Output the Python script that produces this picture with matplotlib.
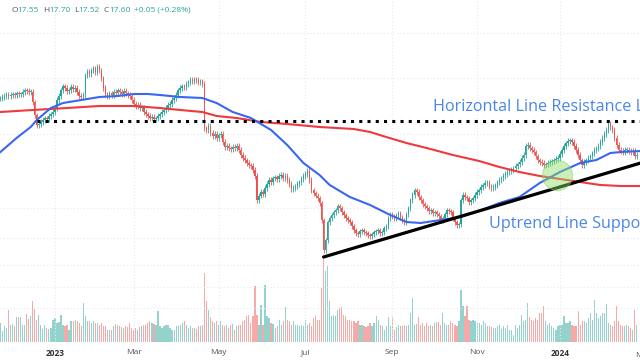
import matplotlib
matplotlib.use("Agg")
import matplotlib.pyplot as plt
import numpy as np
import pandas as pd

plt.rcParams['font.family'] = ['Open Sans', 'DejaVu Sans']

# exchange holidays inside the window
holidays = ["2022-11-24", "2022-12-26", "2023-01-02", "2023-01-16", "2023-02-20",
            "2023-04-07", "2023-05-29", "2023-06-19", "2023-07-04", "2023-09-04",
            "2023-11-23", "2023-12-25", "2024-01-01", "2024-01-15", "2024-02-19"]
start_day = "2022-11-22"

# daily closes
closes = [
    19.88, 19.92, 19.96, 20.00, 19.96, 20.00, 20.04, 20.00, 20.08, 20.04,
    20.04, 20.12, 20.20, 20.16, 20.12, 20.12, 19.72, 19.20, 18.80, 18.84,
    18.92, 19.00, 19.08, 19.04, 19.16, 19.24, 19.32, 19.48, 19.80, 19.96,
    20.20, 20.36, 20.28, 20.16, 20.20, 20.32, 20.24, 20.28, 20.12, 19.96,
    19.92, 20.00, 20.80, 20.92, 20.84, 21.00, 21.08, 20.92, 21.12, 21.00,
    20.68, 20.28, 20.04, 19.96, 20.08, 20.00, 20.12, 20.08, 20.20, 20.12,
    20.04, 20.16, 20.08, 20.00, 19.96, 19.80, 19.64, 19.56, 19.60, 19.48,
    19.52, 19.32, 19.24, 19.16, 19.08, 19.12, 19.04, 19.08, 19.16, 19.24,
    19.32, 19.40, 19.48, 19.60, 19.64, 19.80, 19.88, 20.00, 20.20, 20.28,
    20.36, 20.32, 20.44, 20.52, 20.60, 20.56, 20.64, 20.60, 20.52, 20.56,
    20.44, 18.68, 18.60, 18.76, 18.48, 18.36, 18.44, 18.28, 18.40, 18.44,
    18.12, 17.92, 17.96, 17.88, 17.84, 17.92, 17.88, 17.96, 17.80, 17.60,
    17.48, 17.40, 17.28, 17.20, 17.16, 17.00, 16.76, 15.80, 15.96, 16.12,
    16.04, 16.28, 16.44, 16.60, 16.52, 16.68, 16.72, 16.64, 16.76, 16.80,
    16.68, 16.76, 16.60, 16.44, 16.24, 16.28, 16.36, 16.44, 16.52, 16.64,
    16.76, 16.84, 16.96, 16.60, 16.20, 16.08, 15.96, 15.88, 15.68, 15.00,
    13.80, 14.20, 14.92, 15.08, 15.20, 15.32, 15.40, 15.56, 15.48, 15.32,
    15.20, 15.08, 15.00, 14.92, 14.76, 14.60, 14.48, 14.44, 14.56, 14.60,
    14.52, 14.48, 14.40, 14.36, 14.44, 14.52, 14.56, 14.60, 14.48, 14.52,
    14.68, 14.76, 15.08, 15.24, 15.16, 15.08, 15.20, 15.28, 15.12, 15.00,
    14.92, 15.24, 15.48, 15.80, 16.00, 16.20, 16.12, 15.92, 15.80, 15.64,
    15.56, 15.48, 15.36, 15.40, 15.28, 15.32, 15.24, 15.16, 15.00, 15.08,
    15.24, 15.40, 15.36, 15.32, 15.08, 14.92, 14.80, 14.84, 15.80, 16.00,
    15.92, 15.88, 15.72, 15.80, 15.88, 16.00, 16.12, 16.20, 16.32, 16.40,
    16.48, 16.52, 16.36, 16.28, 16.32, 16.40, 16.52, 16.60, 16.68, 16.76,
    16.84, 16.92, 16.96, 17.00, 17.08, 17.16, 17.24, 17.32, 17.48, 17.60,
    17.96, 18.00, 17.88, 17.80, 17.72, 17.56, 17.40, 17.32, 17.28, 17.20,
    17.24, 17.28, 17.32, 17.36, 17.40, 17.44, 17.48, 17.64, 17.80, 17.96,
    18.08, 18.16, 18.20, 18.12, 17.96, 17.80, 17.60, 17.40, 17.20, 17.32,
    17.40, 17.48, 17.56, 17.68, 17.80, 17.88, 17.96, 18.12, 18.28, 18.44,
    18.60, 18.84, 18.72, 18.60, 18.28, 18.00, 17.80, 17.76, 17.72, 17.80,
    17.80, 17.76, 17.72, 17.76, 17.55, 17.60,
]
wick = 0.1

# daily volume, millions of shares
volumes = [
    38, 22, 32, 28, 64, 34, 36, 32, 50,
    50, 50, 34, 34, 56, 46, 52, 82, 66, 44,
    54, 34, 26, 34, 28, 26, 28, 44, 48, 38,
    40, 54, 34, 32, 34, 24, 42, 42, 44, 42,
    38, 32, 78, 52, 42, 42, 38, 42, 38, 38,
    34, 38, 32, 32, 24, 24, 24, 32, 36, 34,
    32, 30, 28, 32, 30, 38, 28, 24, 28, 24,
    30, 32, 34, 34, 38, 42, 38, 36, 34, 62,
    32, 28, 32, 34, 34, 28, 24, 24, 32, 32,
    34, 38, 42, 34, 28, 32, 28, 28, 26, 32,
    32, 34, 138, 82, 64, 50, 42, 38, 42, 34,
    42, 34, 32, 34, 28, 34, 36, 24, 32, 34,
    34, 42, 44, 52, 54, 38, 52, 112, 54, 34,
    74, 34, 114, 52, 48, 38, 36, 28, 32, 44,
    34, 42, 70, 44, 42, 34, 42, 34, 34, 32,
    34, 32, 44, 34, 38, 32, 48, 52, 44,
    44, 108, 168, 142, 152, 82, 52, 54, 52, 64,
    68, 70, 54, 52, 44, 44, 42, 42, 38, 42,
    34, 34, 32, 30, 32, 38, 32, 38, 52, 44,
    34, 32, 24, 32, 50, 32, 50, 24, 30, 34,
    32, 32, 34, 32, 34, 58, 88, 34, 36, 50,
    34, 38, 32, 38, 32, 34, 32, 38, 40, 40,
    34, 58, 38, 34, 34, 42, 38, 34, 32, 42,
    104, 72, 52, 72, 44, 42, 44, 42, 38, 38,
    34, 42, 38, 32, 32, 30, 28, 28, 32, 34,
    26, 32, 28, 34, 24, 24, 14, 34, 28, 34,
    54, 42, 44, 78, 50, 44, 42, 48, 44, 58,
    58, 72, 42, 34, 38, 32, 28, 24, 32, 34,
    34, 52, 38, 38, 42, 34, 32, 32, 62, 34,
    42, 42, 38, 48, 58, 44, 84, 58, 48, 52,
    58, 58, 76, 38, 34, 32, 42, 72, 42, 34,
    32, 32, 34, 32, 28, 24, 64, 34, 32, 24,
]

# moving averages, sampled (bar index, value)
ma50_idx = [0, 8, 15, 18, 25, 31, 40, 49, 58, 66, 73, 79, 89, 100, 107, 115, 124,
            134, 142, 150, 158, 163, 173, 183, 193, 201, 208, 218, 228, 237, 247,
            257, 267, 277, 287, 295, 302, 307, 317]
ma50 = [17.72, 18.28, 18.72, 19.00, 19.48, 19.68, 19.80, 19.92, 19.96, 20.04, 20.04,
        20.00, 19.92, 19.88, 19.68, 19.32, 19.08, 18.60, 18.00, 17.28, 16.80, 16.40,
        15.92, 15.60, 15.20, 14.92, 14.88, 15.00, 15.12, 15.36, 15.68, 15.92, 16.48,
        16.92, 17.28, 17.40, 17.68, 17.72, 17.76]
ma200_idx = [0, 16, 33, 49, 66, 79, 89, 100, 107, 117, 129, 142, 158, 175, 183, 191,
             201, 211, 224, 237, 247, 257, 267, 277, 287, 297, 307, 317]
ma200 = [19.32, 19.40, 19.48, 19.56, 19.56, 19.48, 19.40, 19.32, 19.16, 19.08, 18.92,
         18.84, 18.72, 18.64, 18.52, 18.32, 18.08, 17.88, 17.60, 17.36, 17.12, 16.92,
         16.76, 16.64, 16.52, 16.40, 16.36, 16.36]

# annotations
resistance = 18.96
resistance_start = 18
trend_idx = [160, 317]
trend_val = [13.52, 17.28]
circle_idx, circle_val = 275.5, 16.80

month_starts = ["2023-01-01", "2023-03-01", "2023-05-01", "2023-07-01", "2023-09-01",
                "2023-11-01", "2024-01-01", "2024-03-01"]
month_labels = ["2023", "Mar", "May", "Jul", "Sep", "Nov", "2024", "Mar"]

header = [("O", "#555555"), ("17.55", "#26a69a"), (None, None),
          ("H", "#555555"), ("17.70", "#26a69a"), (None, None),
          ("L", "#555555"), ("17.52", "#26a69a"), (None, None),
          ("C", "#555555"), ("17.60", "#26a69a"), (None, None),
          ("+0.05 (+0.28%)", "#26a69a")]

UP, DOWN = "#26a69a", "#ef5350"

days = pd.bdate_range(start_day, "2024-03-29", freq="C", holidays=holidays)
n = len(closes)
x = np.arange(n)
c = np.array(closes)
o = np.r_[c[0] - 0.03, c[:-1]]
up = c >= o
col = np.where(up, UP, DOWN)
vcol = np.where(up, "#94d3cd", "#f7a9a8")
vol = np.array(volumes[:n])

fig = plt.figure(figsize=(6.4, 3.6), dpi=100)
ax = fig.add_axes([0, 0.05, 1, 0.95])
vax = ax.twinx()
ax.set_zorder(vax.get_zorder() + 1)
ax.patch.set_visible(False)

# volume
vax.bar(x, vol, width=0.6, color=vcol, linewidth=0)
vax.set_ylim(0, 684)
vax.set_yticks([68, 110, 154])
vax.yaxis.grid(True, color="#e6e9ef", ls=(0, (1, 2)), lw=0.8)
vax.tick_params(axis="y", right=False, labelright=False)

# candles
hi = np.maximum(o, c) + wick
lo = np.minimum(o, c) - wick
ax.vlines(x, lo, hi, colors=col, lw=0.6, zorder=3)
body = np.maximum(np.abs(c - o), 0.04)
ax.bar(x, body, bottom=np.minimum(o, c), width=0.7, color=col, linewidth=0, zorder=3)

# moving averages
ax.plot(ma200_idx, ma200, color="#f0393c", lw=1.5, zorder=4)
ax.plot(ma50_idx, ma50, color="#3a66f0", lw=1.5, zorder=4)

# resistance + trend line + circle
ax.plot([resistance_start, 320], [resistance, resistance], color="black", lw=2.2,
        ls=(0, (1, 1.7)), dash_capstyle="butt", zorder=5)
ax.plot(trend_idx, trend_val, color="black", lw=2.3, solid_capstyle="round", zorder=5)
ax.scatter([circle_idx], [circle_val], s=470, color="#8fdc64", alpha=0.45,
           edgecolors="#7ccf52", linewidths=0.8, zorder=6)

ax.text(214, 19.36, "Horizontal Line Resistance Level", color="#4a86e8",
        fontsize=11.6, va="baseline", zorder=7)
ax.text(242, 14.68, "Uptrend Line Support", color="#4a86e8",
        fontsize=11.6, va="baseline", zorder=7)

ax.set_xlim(-0.2, -0.2 + 640 / 2.02)
ax.set_ylim(10.12, 23.8)
ax.set_yticks([22.5, 20.7, 18.45, 15.5, 14.3])
ax.yaxis.grid(True, color="#e6e9ef", ls=(0, (1, 2)), lw=0.8)
ax.tick_params(axis="y", left=False, labelleft=False)

tick_pos = [int(np.searchsorted(days, pd.Timestamp(m))) for m in month_starts]
xmax = ax.get_xlim()[1]
vis = [(p, l) for p, l in zip(tick_pos, month_labels) if p <= xmax]
ax.set_xticks([p for p, _ in vis])
ax.set_xticklabels([l for _, l in vis])
ax.tick_params(axis="x", length=0, pad=5, labelsize=6, labelcolor="#555555")
for t in ax.get_xticklabels():
    if t.get_text().isdigit():
        t.set_fontweight("bold")
        t.set_color("#333333")
ax.xaxis.grid(True, color="#e6e9ef", ls=(0, (1, 2)), lw=0.8)
for p, l in zip(tick_pos, month_labels):
    if p > xmax:
        ax.text(p, -0.028, l, transform=ax.get_xaxis_transform(), ha="center", va="top",
                fontsize=6, color="#555555", clip_on=False)

for a in (ax, vax):
    for s in a.spines.values():
        s.set_visible(False)

# OHLC header
fig.canvas.draw()
rend = fig.canvas.get_renderer()
xp = 11
for s, colr in header:
    if s is None:
        xp += 4
        continue
    t = fig.text(xp / 640, 1 - 10 / 360, s, color=colr, fontsize=6, va="center")
    xp = t.get_window_extent(rend).x1

fig.savefig("out.png", dpi=100)
